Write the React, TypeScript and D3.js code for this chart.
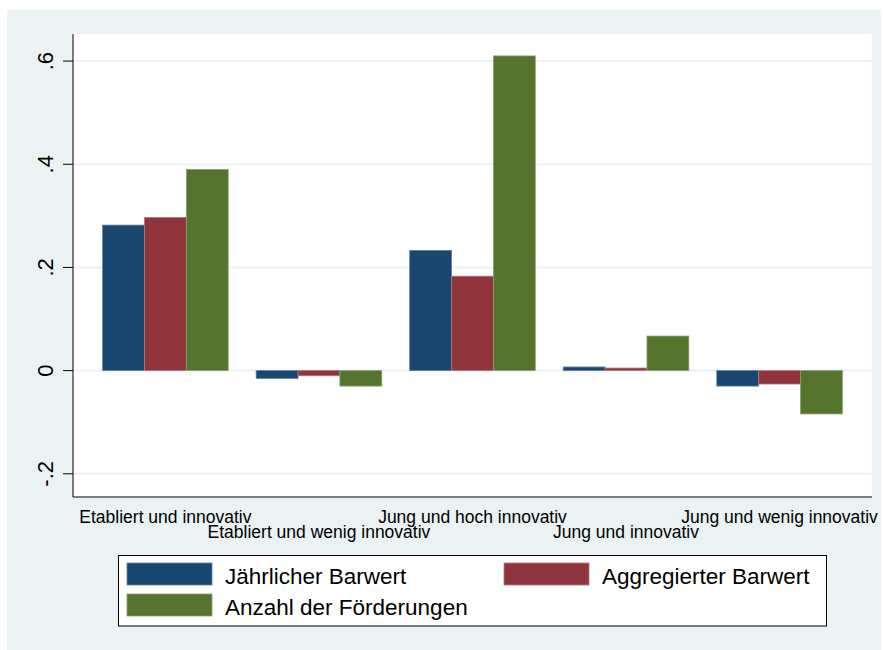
import React from "react";
import * as d3 from "d3";

const categories = [
  "Etabliert und innovativ",
  "Etabliert und wenig innovativ",
  "Jung und hoch innovativ",
  "Jung und innovativ",
  "Jung und wenig innovativ",
];
const seriesNames = ["Jährlicher Barwert", "Aggregierter Barwert", "Anzahl der Förderungen"];
const jaehrlich = [0.282, -0.015, 0.233, 0.007, -0.03];
const aggregiert = [0.297, -0.01, 0.183, 0.005, -0.026];
const anzahl = [0.39, -0.03, 0.61, 0.067, -0.084];
const yTicks = [-0.2, 0, 0.2, 0.4, 0.6];
const yTickLabels = ["-.2", "0", ".2", ".4", ".6"];
const colors = ["#1a476f", "#90353b", "#55752f"];
const strokeColors = ["#5a7fa0", "#b07a7e", "#8da072"];

const W = 883;
const H = 650;
const plot = { left: 73, right: 872, top: 34, bottom: 497 };
const FONT = "'Liberation Sans', Arial, sans-serif";

export default function App() {
  const series = [jaehrlich, aggregiert, anzahl];
  const x = d3
    .scaleBand<string>()
    .domain(categories)
    .range([plot.left, plot.right])
    .paddingInner(0.182)
    .paddingOuter(0.193);
  const xs = d3
    .scaleBand<number>()
    .domain([0, 1, 2])
    .range([0, x.bandwidth()])
    .padding(0);
  const y = d3.scaleLinear().domain([-0.245, 0.6525]).range([plot.bottom, plot.top]);

  const legendItems = [
    { i: 0, x: 127, y: 563 },
    { i: 1, x: 504, y: 563 },
    { i: 2, x: 127, y: 594 },
  ];

  return (
    <svg
      width={W}
      height={H}
      style={{ position: "absolute", left: 0, top: 0, display: "block" }}
      fontFamily={FONT}
    >
      <rect x={0} y={0} width={W} height={H} fill="#ffffff" />
      <rect x={7} y={10} width={874} height={640} fill="#eaf2f3" />
      <rect
        x={plot.left}
        y={plot.top}
        width={plot.right - plot.left}
        height={plot.bottom - plot.top}
        fill="#ffffff"
      />
      {/* gridlines */}
      {yTicks.map((t) => (
        <line
          key={"g" + t}
          x1={plot.left}
          x2={plot.right}
          y1={y(t)}
          y2={y(t)}
          stroke="#eaf2f3"
          strokeWidth={2}
        />
      ))}
      {/* bars */}
      {categories.map((c, ci) => (
        <g key={c} transform={`translate(${x(c)},0)`}>
          {series.map((s, si) => {
            const v = s[ci];
            const y0 = y(0);
            const y1 = y(v);
            return (
              <rect
                key={si}
                x={xs(si)!}
                y={Math.min(y0, y1)}
                width={xs.bandwidth()}
                height={Math.abs(y1 - y0)}
                fill={colors[si]}
                stroke={strokeColors[si]}
                strokeWidth={0.8}
              />
            );
          })}
        </g>
      ))}
      {/* axes */}
      <line x1={plot.left} x2={plot.left} y1={plot.top} y2={plot.bottom} stroke="#000" strokeWidth={1} />
      <line x1={plot.left} x2={plot.right} y1={plot.bottom} y2={plot.bottom} stroke="#000" strokeWidth={1} />
      {yTicks.map((t, i) => (
        <g key={"t" + t}>
          <line x1={63} x2={plot.left} y1={y(t)} y2={y(t)} stroke="#000" strokeWidth={1} />
          <text
            transform={`translate(52.5,${y(t)}) rotate(-90)`}
            textAnchor="middle"
            fontSize={22}
            fill="#000"
          >
            {yTickLabels[i]}
          </text>
        </g>
      ))}
      {/* category labels */}
      {categories.map((c, ci) => (
        <text
          key={"l" + c}
          x={x(c)! + x.bandwidth() / 2}
          y={ci % 2 === 0 ? 522.7 : 538.3}
          textAnchor="middle"
          fontSize={17.5}
          fill="#000"
        >
          {c}
        </text>
      ))}
      {/* legend */}
      <rect x={118.5} y={555.5} width={708} height={70.5} fill="#ffffff" stroke="#000" strokeWidth={1} />
      {legendItems.map((it) => (
        <g key={"lg" + it.i}>
          <rect
            x={it.x}
            y={it.y}
            width={85}
            height={22}
            fill={colors[it.i]}
            stroke={strokeColors[it.i]}
            strokeWidth={0.8}
          />
          <text x={it.x + 98} y={it.y + 21} fontSize={22.5} fill="#000">
            {seriesNames[it.i]}
          </text>
        </g>
      ))}
    </svg>
  );
}
